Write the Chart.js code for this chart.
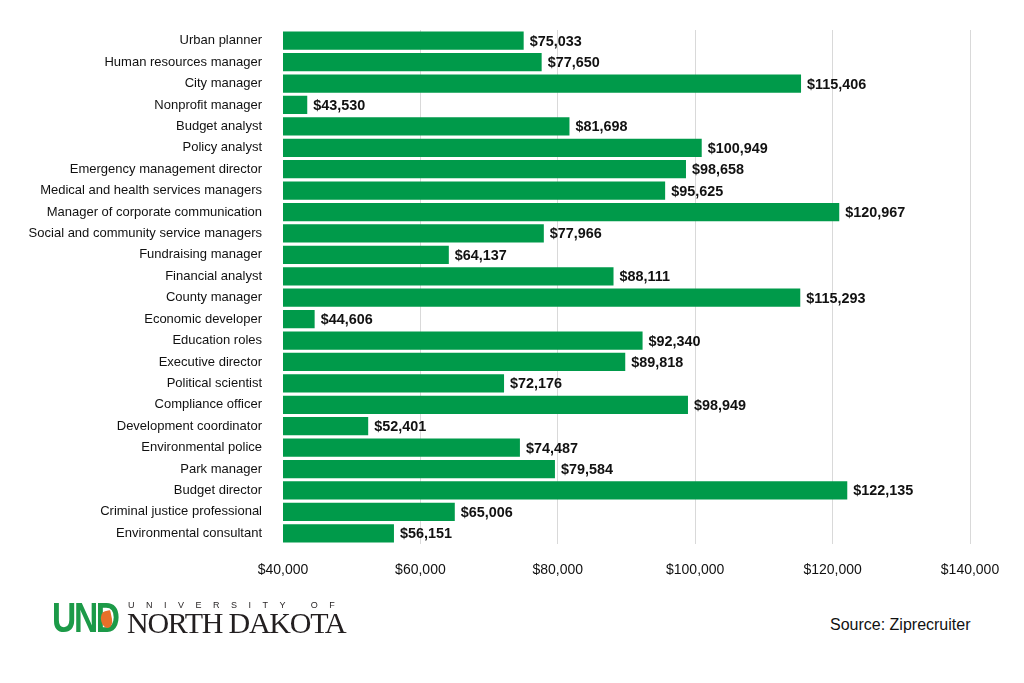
<!DOCTYPE html>
<html>
<head>
<meta charset="utf-8">
<script src="https://cdn.jsdelivr.net/npm/chart.js@4.4.1/dist/chart.umd.min.js"></script>
<style>
  html, body { margin: 0; padding: 0; background: #fff; }
  #wrap { position: relative; width: 1024px; height: 683px; overflow: hidden; }
  #chart { position: absolute; left: 0; top: 0; }
  .logo { position: absolute; left: 50px; top: 596px; width: 310px; height: 44px; }
  .und { position: absolute; left: 2px; top: -3px; font: bold 43px "Liberation Sans", Arial, sans-serif;
         color: #1c9a48; letter-spacing: -3px; transform: scaleX(0.78); transform-origin: 0 0; white-space: nowrap; }
  .flame { position: absolute; left: 51px; top: 15px; width: 11px; height: 17px; background: #e8702a;
           border-radius: 60% 10% 55% 55%; transform: rotate(-12deg); }
  .univ { position: absolute; left: 78px; top: 4px; font: 9px "Liberation Sans", Arial, sans-serif; color: #231f20;
          letter-spacing: 11.5px; white-space: nowrap; }
  .nd { position: absolute; left: 77px; top: 10px; font: 30px "Liberation Serif", "Times New Roman", serif; color: #231f20;
        letter-spacing: -1.25px; white-space: nowrap; }
  .source { position: absolute; left: 830px; top: 616px; font: 16px "Liberation Sans", Arial, sans-serif; color: #111; }
</style>
</head>
<body>
<div id="wrap">
  <canvas id="chart" width="1024" height="600"></canvas>
  <div class="logo">
    <div class="und">UND</div>
    <div class="flame"></div>
    <div class="univ">UNIVERSITY OF</div>
    <div class="nd">NORTH DAKOTA<span style="font-size:6px">.</span></div>
  </div>
  <div class="source">Source: Ziprecruiter</div>
</div>
<script>
// Median salaries by job title
const jobTitles = [
  "Urban planner", "Human resources manager", "City manager", "Nonprofit manager",
  "Budget analyst", "Policy analyst", "Emergency management director",
  "Medical and health services managers", "Manager of corporate communication",
  "Social and community service managers", "Fundraising manager", "Financial analyst",
  "County manager", "Economic developer", "Education roles", "Executive director",
  "Political scientist", "Compliance officer", "Development coordinator",
  "Environmental police", "Park manager", "Budget director",
  "Criminal justice professional", "Environmental consultant"
];
const salaries = [
  75033, 77650, 115406, 43530, 81698, 100949, 98658, 95625, 120967, 77966, 64137, 88111,
  115293, 44606, 92340, 89818, 72176, 98949, 52401, 74487, 79584, 122135, 65006, 56151
];
const xTicks = [40000, 60000, 80000, 100000, 120000, 140000];

const money = v => "$" + v.toLocaleString("en-US");

Chart.defaults.font.family = "'Liberation Sans', Arial, sans-serif";
Chart.defaults.color = "#1a1a1a";

// Draw the value next to each bar
const valueLabels = {
  id: "valueLabels",
  afterDatasetsDraw(chart) {
    const ctx = chart.ctx;
    const meta = chart.getDatasetMeta(0);
    ctx.save();
    ctx.font = "bold 14.4px 'Liberation Sans', Arial, sans-serif";
    ctx.fillStyle = "#111";
    ctx.textBaseline = "middle";
    meta.data.forEach((bar, i) => {
      ctx.fillText(money(salaries[i]), bar.x + 6, bar.y + 1);
    });
    ctx.restore();
  }
};

new Chart(document.getElementById("chart"), {
  type: "bar",
  data: {
    labels: jobTitles,
    datasets: [{
      data: salaries,
      backgroundColor: "#009a4a",
      barPercentage: 0.85,
      categoryPercentage: 1
    }]
  },
  options: {
    indexAxis: "y",
    responsive: false,
    animation: false,
    layout: { padding: { top: 30, right: 54, bottom: 0, left: 0 } },
    plugins: { legend: { display: false }, tooltip: { enabled: false } },
    scales: {
      x: {
        min: 40000,
        max: 140000,
        afterBuildTicks: s => { s.ticks = xTicks.map(v => ({ value: v })); },
        afterFit: s => { s.height = 56; },
        grid: {
          color: ctx => ctx.index === 0 ? "rgba(0,0,0,0)" : "#d9d9d9",
          drawTicks: false
        },
        border: { display: false },
        ticks: {
          padding: 18,
          font: { size: 14 },
          color: "#111",
          callback: v => money(v)
        }
      },
      y: {
        afterFit: s => { s.width = 283; },
        grid: { display: false, drawTicks: false },
        border: { display: false },
        ticks: { padding: 21, font: { size: 13 }, color: "#111", autoSkip: false }
      }
    }
  },
  plugins: [valueLabels]
});
</script>
</body>
</html>
